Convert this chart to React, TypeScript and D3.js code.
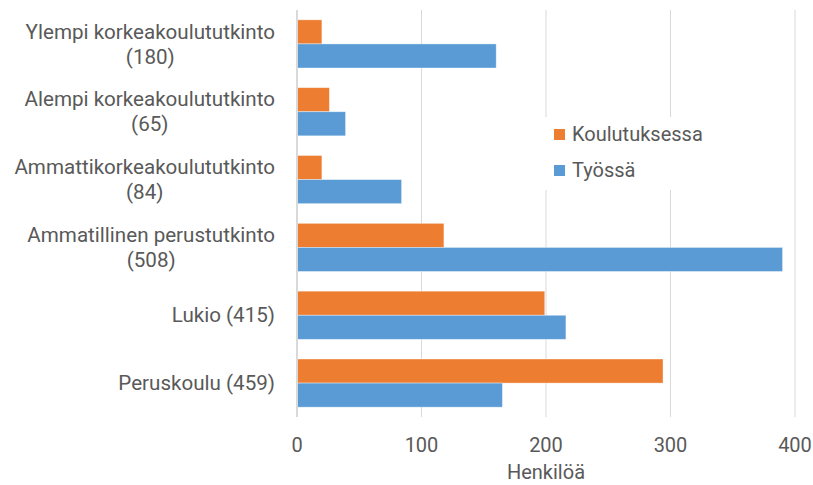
import React, { useEffect, useRef } from 'react';
import * as d3 from 'd3';

// categories, top to bottom; each label is split into lines
const categories = [
  'Ylempi korkeakoulututkinto (180)',
  'Alempi korkeakoulututkinto (65)',
  'Ammattikorkeakoulututkinto (84)',
  'Ammatillinen perustutkinto (508)',
  'Lukio (415)',
  'Peruskoulu (459)',
];
const categoryLines = [
  ['Ylempi korkeakoulututkinto', '(180)'],
  ['Alempi korkeakoulututkinto', '(65)'],
  ['Ammattikorkeakoulututkinto', '(84)'],
  ['Ammatillinen perustutkinto', '(508)'],
  ['Lukio (415)'],
  ['Peruskoulu (459)'],
];
const seriesNames = ['Koulutuksessa', 'Työssä'];
const koulutuksessa = [20, 26, 20, 118, 199, 294];
const tyossa = [160, 39, 84, 390, 216, 165];
const xTicks = [0, 100, 200, 300, 400];
const colors = ['#ED7D31', '#5B9BD5'];

const W = 813;
const H = 485;
const FONT = 'Roboto, sans-serif';
const FS = 20;
const TEXT = '#595959';

const Chart: React.FC = () => {
  const svgRef = useRef<SVGSVGElement>(null);

  useEffect(() => {
    document.body.style.margin = '0';
    document.documentElement.style.overflow = 'hidden';
    if (!svgRef.current) return;
    const svg = d3.select(svgRef.current);
    svg.selectAll('*').remove();

    const x = d3.scaleLinear().domain([0, 400]).range([297, 795]);
    const y = d3.scaleBand<string>()
      .domain(categories)
      .range([10, 417])
      .paddingInner(0.29)
      .paddingOuter(0.145);
    const sub = d3.scaleBand<string>()
      .domain(seriesNames)
      .range([0, y.bandwidth()]);

    // gridlines
    svg.append('g')
      .selectAll('line')
      .data(xTicks.slice(1))
      .enter().append('line')
      .attr('x1', d => x(d)).attr('x2', d => x(d))
      .attr('y1', 10).attr('y2', 417)
      .attr('stroke', '#d9d9d9')
      .attr('stroke-width', 1);

    // bars
    const data = categories.map((c, i) => ({ c, vals: [koulutuksessa[i], tyossa[i]] }));
    const groups = svg.append('g')
      .selectAll('g')
      .data(data)
      .enter().append('g')
      .attr('transform', d => `translate(0,${y(d.c)})`);
    groups.selectAll('rect')
      .data(d => d.vals.map((v, k) => ({ v, k })))
      .enter().append('rect')
      .attr('x', x(0))
      .attr('y', d => sub(seriesNames[d.k]) || 0)
      .attr('width', d => x(d.v) - x(0))
      .attr('height', sub.bandwidth())
      .attr('fill', d => colors[d.k])
      .attr('stroke', 'rgba(255,255,255,0.5)')
      .attr('stroke-width', 0.75);

    // y axis line
    svg.append('line')
      .attr('x1', x(0)).attr('x2', x(0))
      .attr('y1', 10).attr('y2', 417)
      .attr('stroke', '#d9d9d9')
      .attr('stroke-width', 2);

    // category labels: lines centered in a block right-aligned at 275
    const lineH = 25;
    categories.forEach((c, i) => {
      const lines = categoryLines[i];
      const g = svg.append('g');
      const cy = (y(c) || 0) + y.bandwidth() / 2;
      const texts = g.selectAll('text')
        .data(lines)
        .enter().append('text')
        .attr('y', (_, j) => cy + (j - (lines.length - 1) / 2) * lineH)
        .attr('dy', '0.35em')
        .attr('text-anchor', 'middle')
        .attr('font-family', FONT)
        .attr('font-size', 20.6)
        .attr('fill', TEXT)
        .text(d => d);
      let maxW = 0;
      texts.each(function () {
        maxW = Math.max(maxW, (this as SVGTextElement).getComputedTextLength());
      });
      texts.attr('x', 275 - maxW / 2);
    });

    // x tick labels
    svg.append('g')
      .selectAll('text')
      .data(xTicks)
      .enter().append('text')
      .attr('x', d => x(d))
      .attr('y', 452)
      .attr('text-anchor', 'middle')
      .attr('font-family', FONT)
      .attr('font-size', FS)
      .attr('fill', TEXT)
      .text(d => d);

    svg.append('text')
      .attr('x', (x(0) + x(400)) / 2)
      .attr('y', 479)
      .attr('text-anchor', 'middle')
      .attr('font-family', FONT)
      .attr('font-size', FS)
      .attr('fill', TEXT)
      .text('Henkilöä');

    // legend
    const legend = svg.append('g');
    legend.append('rect')
      .attr('x', 540).attr('y', 117)
      .attr('width', 180).attr('height', 73)
      .attr('fill', 'white');
    seriesNames.forEach((s, k) => {
      legend.append('rect')
        .attr('x', 554).attr('y', 129 + k * 36)
        .attr('width', 11).attr('height', 11)
        .attr('fill', colors[k]);
      legend.append('text')
        .attr('x', 572).attr('y', 141 + k * 36)
        .attr('font-family', FONT)
        .attr('font-size', FS)
        .attr('fill', TEXT)
        .text(s);
    });
  }, []);

  return <svg ref={svgRef} width={W} height={H} style={{ display: 'block' }} />;
};

export default function App() {
  return <Chart />;
}
